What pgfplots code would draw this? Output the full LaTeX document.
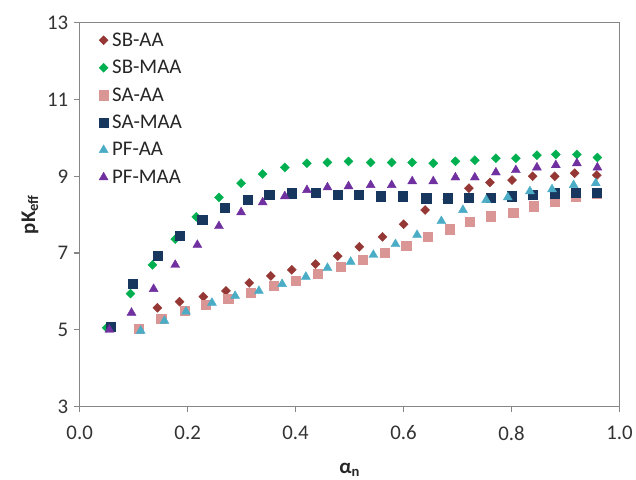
\documentclass[border=0pt]{standalone}
\usepackage{pgfplots}
\pgfplotsset{compat=1.18}
\usepackage{fontspec}
\setmainfont{Carlito}

\definecolor{sbaa}{HTML}{953735}
\definecolor{sbmaa}{HTML}{00B050}
\definecolor{saaa}{HTML}{D99694}
\definecolor{samaa}{HTML}{17375E}
\definecolor{pfaa}{HTML}{4BACC6}
\definecolor{pfmaa}{HTML}{7030A0}
\definecolor{axgray}{HTML}{868686}

\begin{document}
\begin{tikzpicture}
\begin{axis}[
  name=ax,
  scale only axis,
  width=542bp, height=385bp,
  xmin=0, xmax=1, ymin=3, ymax=13,
  xtick={0,0.2,0.4,0.6,0.8,1},
  ytick={3,5,7,9,11,13},
  /pgf/number format/assume math mode=true,
  tick label style={font=\fontsize{21}{25}\selectfont, text=black!80},
  xticklabel style={yshift=-10bp, /pgf/number format/.cd, fixed, fixed zerofill, precision=1},
  yticklabel style={xshift=-2bp},
  tick align=outside,
  xtick pos=left, ytick pos=left,
  major tick length=6bp,
  tick style={axgray, line width=1.1pt},
  axis line style={axgray, line width=1.1pt},
  xlabel={\textbf{α}\textsubscript{\textbf{n}}},
  ylabel={\textbf{pK\textsubscript{eff}}},
  label style={font=\fontsize{21}{25}\selectfont, text=black!85},
  xlabel style={yshift=-16bp},
  ylabel style={yshift=2bp},
  legend style={draw=none, fill=none, at={(0.03,0.985)}, anchor=north west,
    font=\fontsize{21}{25}\selectfont, text=black!85, row sep=8.5bp,
    column sep=2bp},
  legend cell align=left,
]
% SB-AA
\addplot[only marks, mark=square*, mark size=3.2bp, color=sbaa, mark options={rotate=45}] table {
0.144 5.57
0.185 5.73
0.229 5.86
0.271 6.01
0.314 6.22
0.354 6.40
0.393 6.56
0.437 6.71
0.478 6.92
0.518 7.16
0.561 7.42
0.600 7.75
0.640 8.12
0.681 8.40
0.721 8.69
0.760 8.84
0.801 8.90
0.839 9.00
0.880 9.00
0.917 9.08
0.958 9.03
};
\addlegendentry{SB-AA}
% SB-MAA
\addplot[only marks, mark=square*, mark size=3.2bp, color=sbmaa, mark options={rotate=45}] table {
0.050 5.05
0.094 5.94
0.135 6.69
0.177 7.36
0.216 7.94
0.258 8.45
0.299 8.82
0.339 9.06
0.380 9.23
0.421 9.34
0.459 9.36
0.498 9.39
0.539 9.36
0.578 9.36
0.616 9.36
0.655 9.34
0.696 9.39
0.732 9.42
0.771 9.47
0.808 9.47
0.847 9.55
0.882 9.57
0.921 9.57
0.959 9.49
};
\addlegendentry{SB-MAA}
% SA-AA
\addplot[only marks, mark=square*, mark size=4.6bp, color=saaa] table {
0.109 5.03
0.151 5.29
0.194 5.49
0.234 5.65
0.275 5.81
0.317 5.96
0.360 6.14
0.400 6.27
0.441 6.45
0.483 6.64
0.524 6.82
0.565 7.00
0.605 7.18
0.644 7.42
0.685 7.62
0.723 7.81
0.762 7.96
0.803 8.06
0.841 8.22
0.880 8.35
0.919 8.48
0.958 8.56
};
\addlegendentry{SA-AA}
% SA-MAA
\addplot[only marks, mark=square*, mark size=4.6bp, color=samaa] table {
0.057 5.08
0.098 6.19
0.144 6.92
0.185 7.44
0.227 7.86
0.268 8.19
0.312 8.40
0.351 8.53
0.393 8.56
0.437 8.58
0.478 8.53
0.517 8.51
0.557 8.48
0.598 8.48
0.642 8.43
0.681 8.43
0.721 8.45
0.762 8.45
0.801 8.48
0.839 8.53
0.880 8.56
0.919 8.58
0.958 8.58
};
\addlegendentry{SA-MAA}
% PF-AA
\addplot[only marks, mark=triangle*, mark size=5.2bp, color=pfaa] table {
0.113 4.97
0.157 5.23
0.197 5.47
0.245 5.70
0.288 5.88
0.332 6.01
0.375 6.19
0.419 6.38
0.459 6.61
0.502 6.77
0.544 6.95
0.585 7.23
0.625 7.47
0.670 7.83
0.710 8.12
0.753 8.38
0.793 8.45
0.834 8.61
0.875 8.66
0.915 8.77
0.956 8.82
};
\addlegendentry{PF-AA}
% PF-MAA
\addplot[only marks, mark=triangle*, mark size=5.2bp, color=pfmaa] table {
0.055 5.00
0.096 5.44
0.137 6.06
0.177 6.69
0.218 7.21
0.258 7.70
0.299 8.06
0.339 8.32
0.380 8.48
0.421 8.64
0.459 8.71
0.498 8.74
0.539 8.77
0.578 8.77
0.616 8.87
0.655 8.87
0.696 8.97
0.732 8.97
0.771 9.10
0.808 9.16
0.847 9.23
0.882 9.29
0.921 9.34
0.959 9.23
};
\addlegendentry{PF-MAA}
\end{axis}
\useasboundingbox ([shift={(-80bp,-73bp)}]ax.south west) rectangle ([shift={(14bp,23bp)}]ax.north east);
\end{tikzpicture}
\end{document}
